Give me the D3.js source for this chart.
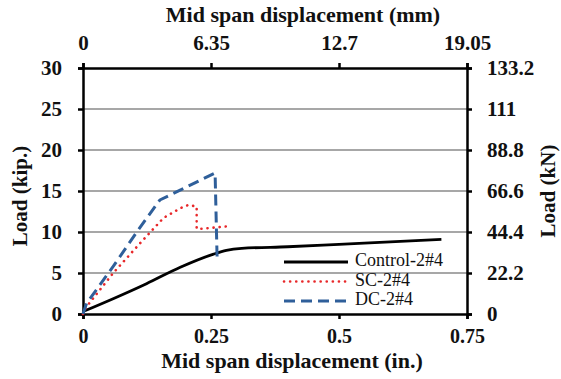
<!DOCTYPE html>
<html><head><meta charset="utf-8">
<script src="https://cdn.jsdelivr.net/npm/d3@7"></script>
<style>body{margin:0;background:#fff}svg{display:block}text{font-family:"Liberation Serif","Times New Roman",serif;fill:#111}</style>
</head><body><svg id="c" width="561" height="379"></svg>
<script>
const controlX=[0,0.06,0.124,0.19,0.255,0.28,0.31,0.4,0.5,0.6,0.7];
const controlY=[0.3,1.9,3.7,5.7,7.3,7.75,8.0,8.2,8.5,8.8,9.1];
const scX=[0,0.007,0.059,0.111,0.157,0.19,0.206,0.222,0.222,0.232,0.284];
const scY=[0,0.9,5.0,8.6,11.7,12.9,13.3,13.1,10.4,10.4,10.7];
const dcX=[0,0.007,0.059,0.105,0.15,0.196,0.258,0.262];
const dcY=[0,1.3,5.8,10.0,13.9,15.3,17.2,6.6];
const xTicks=[0,0.25,0.5,0.75];
const xTickLabels=["0","0.25","0.5","0.75"];
const xTopLabels=["0","6.35","12.7","19.05"];
const yTicks=[0,5,10,15,20,25,30];
const yRightLabels=["0","22.2","44.4","66.6","88.8","111","133.2"];
const seriesNames=["Control-2#4","SC-2#4","DC-2#4"];

const svg=d3.select("#c");
const L=83,R=467,T=68,B=314;
const x=d3.scaleLinear().domain([0,0.75]).range([L,R]);
const y=d3.scaleLinear().domain([0,30]).range([B,T]);

svg.append("g").selectAll("line").data(yTicks.slice(1,-1)).join("line")
 .attr("x1",L).attr("x2",R).attr("y1",d=>y(d)).attr("y2",d=>y(d))
 .attr("stroke","#8a8a8a").attr("stroke-width",1.5);

function styleAxis(g,fs){
  g.select(".domain").attr("stroke","#000").attr("stroke-width",2.5);
  g.selectAll(".tick line").attr("stroke","#000").attr("stroke-width",2.5);
  g.selectAll(".tick text").attr("font-size",fs||21).attr("font-weight","bold").attr("font-family","Liberation Serif").attr("fill","#111");
}
const ax=d3.axisBottom(x).tickValues(xTicks).tickFormat((d,i)=>xTickLabels[i]).tickSizeOuter(0).tickSize(5).tickPadding(10);
svg.append("g").attr("transform",`translate(0,${B})`).call(ax).call(styleAxis,20);
const axT=d3.axisTop(x).tickValues(xTicks).tickFormat((d,i)=>xTopLabels[i]).tickSizeOuter(0).tickSize(5).tickPadding(13);
svg.append("g").attr("transform",`translate(0,${T})`).call(axT).call(styleAxis);
const ayL=d3.axisLeft(y).tickValues(yTicks).tickFormat(d3.format("d")).tickSizeOuter(0).tickSize(5).tickPadding(16);
svg.append("g").attr("transform",`translate(${L},0)`).call(ayL).call(styleAxis);
const ayR=d3.axisRight(y).tickValues(yTicks).tickFormat((d,i)=>yRightLabels[i]).tickSizeOuter(0).tickSize(5).tickPadding(15);
svg.append("g").attr("transform",`translate(${R},0)`).call(ayR).call(styleAxis);

const line=d3.line().x(d=>x(d[0])).y(d=>y(d[1]));
const series=[
 {name:seriesNames[0],xs:controlX,ys:controlY,color:"#000",w:2.8,dash:null,curve:d3.curveMonotoneX},
 {name:seriesNames[1],xs:scX,ys:scY,color:"#e8282a",w:2.6,dash:"0.1 6",cap:"round",curve:d3.curveLinear},
 {name:seriesNames[2],xs:dcX,ys:dcY,color:"#2f5f9a",w:3,dash:"11 6",curve:d3.curveLinear}
];
series.forEach(s=>{
  svg.append("path").datum(s.xs.map((v,i)=>[v,s.ys[i]]))
   .attr("d",line.curve(s.curve)).attr("fill","none").attr("stroke",s.color)
   .attr("stroke-width",s.w).attr("stroke-dasharray",s.dash).attr("stroke-linecap",s.cap||"butt").attr("stroke-linejoin","round");
});

const lg=svg.append("g");
series.forEach((s,i)=>{
  const yy=262+i*19.5;
  lg.append("line").attr("x1",284).attr("x2",348).attr("y1",yy).attr("y2",yy)
   .attr("stroke",s.color).attr("stroke-width",s.w).attr("stroke-dasharray",s.dash).attr("stroke-linecap",s.cap||"butt");
  lg.append("text").attr("x",355).attr("y",yy+4).attr("font-size",18).text(s.name);
});

svg.append("text").attr("x",303).attr("y",22).attr("text-anchor","middle").attr("font-size",22).attr("font-weight","bold").text("Mid span displacement (mm)");
svg.append("text").attr("x",292).attr("y",368).attr("text-anchor","middle").attr("font-size",22).attr("font-weight","bold").text("Mid span displacement (in.)");
svg.append("text").attr("transform","translate(27,196) rotate(-90)").attr("text-anchor","middle").attr("font-size",21).attr("font-weight","bold").text("Load (kip.)");
svg.append("text").attr("transform","translate(555,191) rotate(-90)").attr("text-anchor","middle").attr("font-size",21).attr("font-weight","bold").text("Load (kN)");
</script></body></html>
